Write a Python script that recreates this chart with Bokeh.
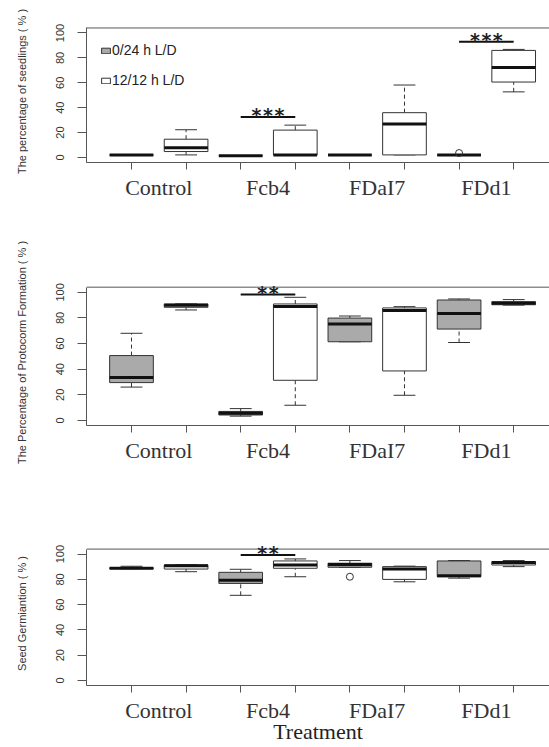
from bokeh.plotting import figure
from bokeh.layouts import column
from bokeh.models import (Range1d, FixedTicker, LinearAxis, ColumnDataSource,
                          Legend, LegendItem, LabelSet, Span)
from bokeh.core.properties import value
from bokeh.embed import file_html
from bokeh.resources import INLINE

# ---------------- data ----------------
categories = ["Control", "Fcb4", "FDaI7", "FDd1"]
conditions = ["0/24 h L/D", "12/12 h L/D"]
y_ticks = [0, 20, 40, 60, 80, 100]
positions = [1, 2, 3, 4, 5, 6, 7, 8]          # box order: Control-0/24, Control-12/12, Fcb4-0/24, ...
group_pos = [1.5, 3.5, 5.5, 7.5]

# The percentage of seedlings
seed_lo  = [2.0, 2.1, 1.5, 2.0, 2.0, 2.1, 2.0, 52.7]
seed_q1  = [2.0, 4.8, 1.5, 2.0, 2.0, 2.1, 2.0, 60.6]
seed_med = [2.0, 7.9, 1.5, 2.0, 2.0, 27.0, 2.0, 72.2]
seed_q3  = [2.0, 14.7, 1.5, 22.0, 2.0, 36.0, 2.0, 86.0]
seed_hi  = [2.0, 22.3, 1.5, 26.0, 2.0, 58.2, 2.0, 86.8]
seed_out_x = [7]
seed_out_y = [3.6]
seed_sig_x0 = [3, 7]
seed_sig_x1 = [4, 8]
seed_sig_y = [32.5, 92.9]
seed_sig_t = ["***", "***"]

# The Percentage of Protocorm Formation
proto_lo  = [26.0, 86.2, 3.3, 11.8, 61.4, 19.6, 60.8, 90.0]
proto_q1  = [29.5, 88.3, 4.2, 31.3, 61.4, 38.6, 71.3, 90.3]
proto_med = [33.4, 89.9, 5.5, 89.0, 75.2, 85.7, 83.5, 91.5]
proto_q3  = [50.6, 90.9, 7.0, 90.9, 79.9, 87.8, 94.0, 92.7]
proto_hi  = [68.0, 91.0, 9.2, 96.1, 81.5, 88.8, 94.8, 94.3]
proto_out_x = []
proto_out_y = []
proto_sig_x0 = [3]
proto_sig_x1 = [4]
proto_sig_y = [98.2]
proto_sig_t = ["**"]

# Seed Germination
germ_lo  = [88.5, 86.1, 67.4, 82.1, 89.6, 78.1, 81.0, 90.1]
germ_q1  = [88.5, 88.2, 76.8, 88.8, 89.6, 80.0, 82.1, 91.4]
germ_med = [88.8, 90.9, 79.4, 91.4, 91.7, 88.2, 82.9, 93.3]
germ_q3  = [89.2, 91.4, 85.6, 94.6, 92.8, 90.1, 94.6, 94.1]
germ_hi  = [90.4, 91.5, 88.0, 96.2, 94.9, 90.5, 94.9, 94.9]
germ_out_x = [5]
germ_out_y = [82.1]
germ_sig_x0 = [3]
germ_sig_x1 = [4]
germ_sig_y = [99.4]
germ_sig_t = ["**"]

# ---------------- styling ----------------
FILLS = ["#aaaaaa", "#ffffff"]
LINE = "#333333"
AXIS = "#555555"
BOX_W = 0.8
CAP_W = 0.4
SANS = "Liberation Sans"
SERIF = "Liberation Serif"
Y_LO, Y_BOX_TOP, Y_VIEW_TOP = -4, 104, 110


def panel(lo, q1, med, q3, hi, out_x, out_y, sx0, sx1, sy, st, ylabel,
          height, b_top, b_bottom, xlabel=None, legend=False):
    p = figure(width=549, height=height,
               x_range=Range1d(0.176, 8.656), y_range=Range1d(Y_LO, Y_VIEW_TOP),
               output_backend="svg", toolbar_location=None,
               x_axis_type=None, y_axis_type=None,
               min_border_left=86, min_border_right=0,
               min_border_top=b_top, min_border_bottom=b_bottom)
    p.outline_line_color = None
    p.background_fill_color = "white"

    # top edge of the plot box
    p.add_layout(Span(location=Y_BOX_TOP, dimension="width", line_color=AXIS, line_width=1))

    # whiskers
    p.segment(x0=positions, y0=q3, x1=positions, y1=hi, line_color=LINE,
              line_width=1, line_dash="4 3")
    p.segment(x0=positions, y0=lo, x1=positions, y1=q1, line_color=LINE,
              line_width=1, line_dash="4 3")
    # staples
    xl = [x - CAP_W / 2 for x in positions]
    xr = [x + CAP_W / 2 for x in positions]
    p.segment(x0=xl, y0=hi, x1=xr, y1=hi, line_color=LINE, line_width=1)
    p.segment(x0=xl, y0=lo, x1=xr, y1=lo, line_color=LINE, line_width=1)

    # boxes, by condition
    renderers = []
    for k in range(2):
        xs = positions[k::2]
        src = ColumnDataSource(dict(
            left=[x - BOX_W / 2 for x in xs], right=[x + BOX_W / 2 for x in xs],
            bottom=q1[k::2], top=q3[k::2]))
        r = p.quad(left="left", right="right", bottom="bottom", top="top",
                   source=src, fill_color=FILLS[k], line_color=LINE, line_width=1)
        renderers.append(r)
    # medians
    bl = [x - BOX_W / 2 for x in positions]
    br = [x + BOX_W / 2 for x in positions]
    p.segment(x0=bl, y0=med, x1=br, y1=med, line_color="#111111", line_width=3)
    # outliers
    if out_x:
        p.scatter(out_x, out_y, marker="circle", size=7, fill_color=None,
                  line_color=LINE, line_width=1)
    # significance bars
    p.segment(x0=sx0, y0=sy, x1=sx1, y1=sy, line_color="#111111", line_width=2)
    ssrc = ColumnDataSource(dict(x=[(a + b) / 2 for a, b in zip(sx0, sx1)], y=sy, t=st))
    p.add_layout(LabelSet(x="x", y="y", text="t", source=ssrc, text_align="center",
                          text_baseline="alphabetic", y_offset=-5,
                          text_font=value("DejaVu Sans Mono"), text_font_style="bold",
                          text_font_size="19px", text_color="#222222"))

    # axes
    ya = LinearAxis(ticker=FixedTicker(ticks=y_ticks), axis_label=ylabel,
                    bounds=(Y_LO, Y_BOX_TOP))
    ya.major_label_orientation = "vertical"
    ya.major_label_text_font = SANS
    ya.major_label_text_font_size = "11px"
    ya.major_label_text_color = "#333333"
    ya.major_label_standoff = 13
    ya.major_tick_out = 9
    ya.major_tick_in = 0
    ya.minor_tick_out = 0
    ya.minor_tick_in = 0
    ya.axis_line_color = AXIS
    ya.major_tick_line_color = AXIS
    ya.axis_label_text_font = SANS
    ya.axis_label_text_font_size = "11px"
    ya.axis_label_text_font_style = "normal"
    ya.axis_label_text_color = "#333333"
    ya.axis_label_standoff = 26
    p.add_layout(ya, "left")

    xa = LinearAxis(ticker=FixedTicker(ticks=group_pos, minor_ticks=positions),
                    major_label_overrides={g: c for g, c in zip(group_pos, categories)})
    xa.major_tick_out = 0
    xa.major_tick_in = 0
    xa.minor_tick_out = 7
    xa.minor_tick_in = 0
    xa.minor_tick_line_color = AXIS
    xa.axis_line_color = AXIS
    xa.major_label_text_font = SERIF
    xa.major_label_text_font_size = "22px"
    xa.major_label_text_color = "#333333"
    xa.major_label_standoff = 5
    if xlabel:
        xa.axis_label = xlabel
        xa.axis_label_text_font = SERIF
        xa.axis_label_text_font_size = "22px"
        xa.axis_label_text_font_style = "normal"
        xa.axis_label_text_color = "#222222"
        xa.axis_label_standoff = -7
    p.add_layout(xa, "below")

    if legend:
        lg = Legend(items=[LegendItem(label=conditions[k], renderers=[renderers[k]])
                           for k in range(2)],
                    location=(14, 74), margin=0, padding=0, spacing=14,
                    glyph_width=11, glyph_height=7, label_standoff=1,
                    label_text_font=SANS, label_text_font_size="14px",
                    label_text_color="#222222", border_line_color=None,
                    background_fill_alpha=0)
        p.add_layout(lg)
    return p


p1 = panel(seed_lo, seed_q1, seed_med, seed_q3, seed_hi, seed_out_x, seed_out_y,
           seed_sig_x0, seed_sig_x1, seed_sig_y, seed_sig_t,
           "The percentage of seedlings ( % )", 236, 20, 74, legend=True)
p2 = panel(proto_lo, proto_q1, proto_med, proto_q3, proto_hi, proto_out_x, proto_out_y,
           proto_sig_x0, proto_sig_x1, proto_sig_y, proto_sig_t,
           "The Percentage of Protocorm Formation ( % )", 294, 43, 105)
p3 = panel(germ_lo, germ_q1, germ_med, germ_q3, germ_hi, germ_out_x, germ_out_y,
           germ_sig_x0, germ_sig_x1, germ_sig_y, germ_sig_t,
           "Seed Germiantion ( % )", 217, 11, 62, xlabel="Treatment")

layout = column(p1, p2, p3, spacing=0)
open("out.html", "w").write(file_html(layout, INLINE))
